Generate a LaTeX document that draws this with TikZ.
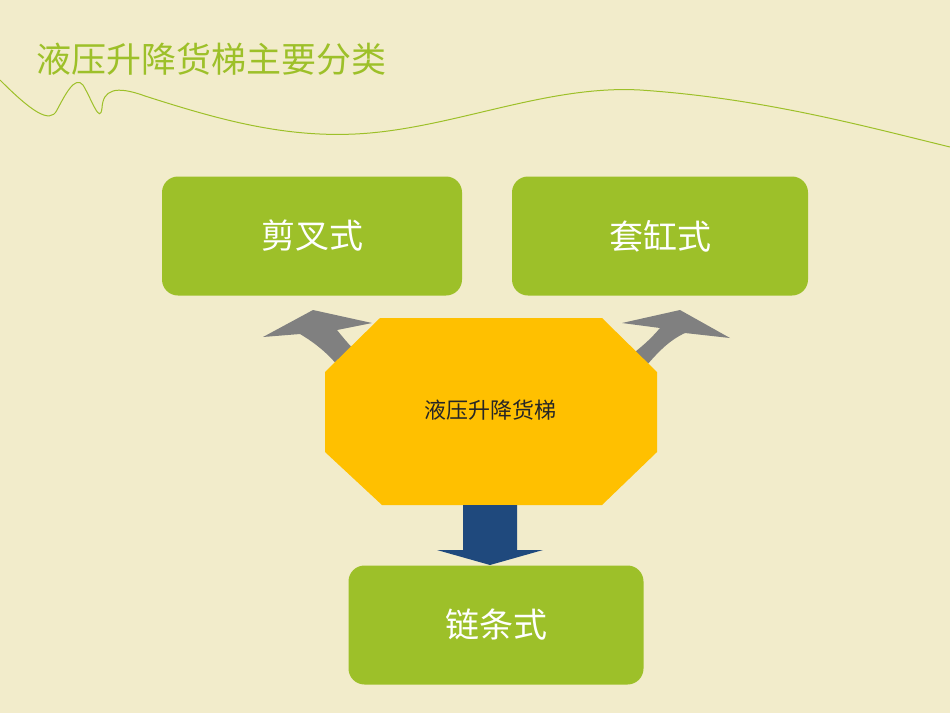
\documentclass[tikz,border=0pt]{standalone}
\usepackage{fontspec}
\newfontfamily\cjk{Noto Sans CJK SC}
\definecolor{bg}{HTML}{F2ECCB}
\definecolor{grn}{HTML}{9DC029}
\definecolor{yel}{HTML}{FFC000}
\definecolor{gry}{HTML}{808080}
\definecolor{blu}{HTML}{1F497D}
\begin{document}
\begin{tikzpicture}[x=1pt,y=-1pt,
  gbox/.style={fill=grn,rounded corners=16pt,minimum width=300pt,minimum height=119pt,text=white,font=\cjk\fontsize{34}{40}\selectfont,inner sep=0pt}]
\fill[bg] (0,0) rectangle (950,713);
\useasboundingbox (0,0) rectangle (950,713);
\node[anchor=west,text=grn,font=\cjk\fontsize{35}{40}\selectfont,inner sep=0pt] (title) at (36,59) {液压升降货梯主要分类};
\draw[grn,line width=1pt] (0,80) .. controls (30,110) and (50,125) .. (57,110)
  .. controls (65,95) and (75,75) .. (83,85) .. controls (92,100) and (100,125) .. (102,108)
  .. controls (103,90) and (115,85) .. (145,96) .. controls (220,120) and (290,140) .. (370,133)
  .. controls (460,125) and (550,85) .. (640,90) .. controls (760,98) and (860,125) .. (950,147);
\node[gbox] (a) at (312,236) {剪叉式};
\node[gbox,minimum width=296pt] (b) at (660,236) {套缸式};
\node[gbox,minimum width=295pt] (c) at (496,625) {链条式};
% gray arrows
\fill[gry] (338,366) .. controls (325,350) and (310,340) .. (300,334) -- (263,337) -- (313,310) -- (372,323) -- (337,330) .. controls (345,340) and (352,348) .. (360,356) -- cycle;
\fill[gry] (646,366) .. controls (660,350) and (670,340) .. (685,333) -- (730,338) -- (680,310) -- (622,323) -- (660,328) .. controls (650,340) and (640,348) .. (630,356) -- cycle;
% octagon
\fill[yel] (380,318) -- (602,318) -- (657,372) -- (657,452) -- (602,505) -- (382,505) -- (325,452) -- (325,372) -- cycle;
\node[font=\cjk\fontsize{22}{26}\selectfont,text=black!85] (m) at (490,410) {液压升降货梯};
% blue arrow
\coordinate (tip) at (490,565);
\fill[blu] (463,505) -- (517,505) -- (517,550) -- (543,550) -- (tip) -- (437,550) -- (463,550) -- cycle;
\end{tikzpicture}
\end{document}
